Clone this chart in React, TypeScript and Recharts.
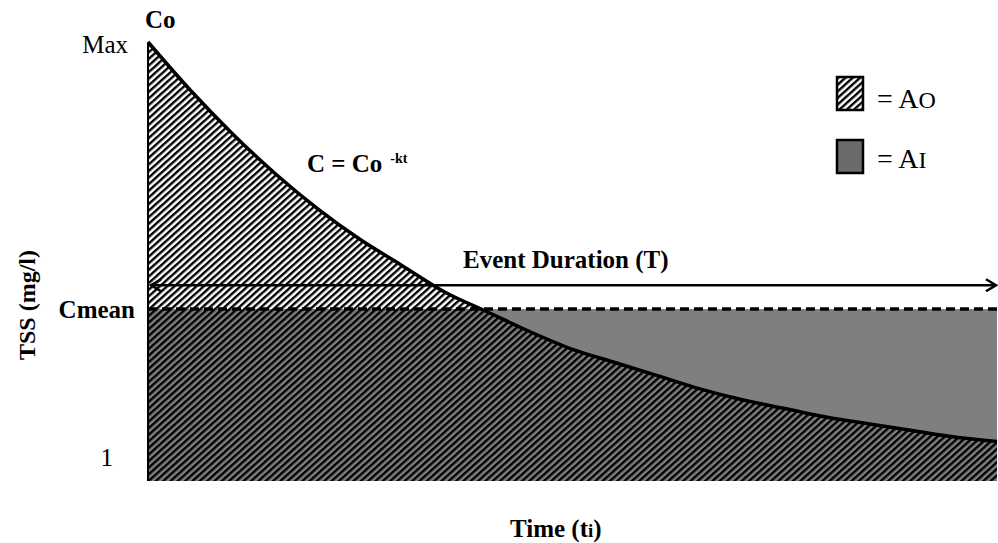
import {
  Area,
  ComposedChart,
  ReferenceLine,
  XAxis,
  YAxis,
} from 'recharts'

// time since start of event (0..100 = event duration T)
const times = [0, 5, 10, 15, 20, 25, 30, 35, 40, 45, 50, 55, 60, 65, 70, 75, 80, 85, 90, 95, 100]
// TSS concentration (Max = 100)
const tss = [100, 89, 79, 70, 62, 55, 49, 43, 38.5, 34, 30, 27, 24, 21, 18.5, 16.5, 14.5, 13, 11.5, 10, 9]
const cMean = [39.2, 39.2, 39.2, 39.2, 39.2, 39.2, 39.2, 39.2, 39.2, 39.2, 39.2, 39.2, 39.2, 39.2, 39.2, 39.2, 39.2, 39.2, 39.2, 39.2, 39.2]

const C_MEAN = 39.2
const DURATION_LEVEL = 44.6
const yTicks = [2.5, 39.2, 100]
const yTickLabels = ['1', 'Cmean', 'Max']

const data = times.map((t, i) => ({ t, tss: tss[i], cmean: cMean[i] }))

const FONT = '"Liberation Serif", "Times New Roman", serif'
const GREY = '#7f7f7f'
const serif = { fontFamily: FONT }

function YTick({ x, y, index }: { x: number; y: number; index: number }) {
  // each label sits a little differently in the original
  const dx = [-35, -13, -20][index]
  const dy = [-4, 9, 11][index]
  return (
    <text
      x={x + dx}
      y={y + dy}
      textAnchor="end"
      style={serif}
      fontSize={25}
      fontWeight={index === 1 ? 'bold' : 'normal'}
      fill="#000"
    >
      {yTickLabels[index]}
    </text>
  )
}

function DurationArrow(props: { x1: number; y1: number; x2: number; y2: number }) {
  return (
    <line
      x1={props.x1 + 3}
      y1={props.y1}
      x2={props.x2 - 1}
      y2={props.y2}
      stroke="#000"
      strokeWidth={2.5}
      markerStart="url(#arrowStart)"
      markerEnd="url(#arrowEnd)"
    />
  )
}

export default function App() {
  return (
    <div style={{ position: 'absolute', left: 0, top: 0, background: '#fff' }}>
      <ComposedChart
        width={998}
        height={543}
        data={data}
        margin={{ top: 42, right: 1, bottom: 62, left: 0 }}
      >
        <defs>
          <pattern
            id="hatch"
            width={4.9}
            height={10}
            patternUnits="userSpaceOnUse"
            patternTransform="rotate(48)"
          >
            <rect x={0} y={0} width={2.4} height={10} fill="#000" />
          </pattern>
          <marker id="arrowEnd" markerWidth={14} markerHeight={14} refX={11} refY={7} orient="auto" markerUnits="userSpaceOnUse">
            <path d="M1,1 L11,7 L1,13" fill="none" stroke="#000" strokeWidth={2.5} />
          </marker>
          <marker id="arrowStart" markerWidth={14} markerHeight={14} refX={3} refY={7} orient="auto" markerUnits="userSpaceOnUse">
            <path d="M13,1 L3,7 L13,13" fill="none" stroke="#000" strokeWidth={2.5} />
          </marker>
        </defs>
        <XAxis
          dataKey="t"
          type="number"
          domain={[0, 100]}
          tick={false}
          tickLine={false}
          axisLine={{ stroke: '#000', strokeWidth: 2 }}
          height={0}
        />
        <YAxis
          type="number"
          domain={[0, 100]}
          ticks={yTicks}
          interval={0}
          width={148}
          tickSize={0}
          tickMargin={0}
          tickLine={false}
          tick={(p: any) => <YTick x={p.x} y={p.y} index={p.index} />}
          axisLine={{ stroke: '#000', strokeWidth: 2 }}
        />
        <Area
          dataKey="cmean"
          type="linear"
          fill={GREY}
          fillOpacity={1}
          stroke="none"
          isAnimationActive={false}
        />
        <Area
          dataKey="tss"
          type="monotone"
          fill="url(#hatch)"
          fillOpacity={1}
          stroke="#000"
          strokeWidth={3.5}
          isAnimationActive={false}
        />
        <ReferenceLine y={C_MEAN} stroke="#000" strokeWidth={3.5} strokeDasharray="9 5" />
        <ReferenceLine y={DURATION_LEVEL} shape={(p: any) => <DurationArrow {...p} />} />

        <text x={145} y={28} style={serif} fontSize={25} fontWeight="bold">Co</text>
        <text x={307} y={172} style={serif} fontSize={25} fontWeight="bold">
          C = Co
          <tspan dx={8} dy={-9} fontSize={14}>-kt</tspan>
        </text>
        <text x={463} y={268} style={serif} fontSize={25} fontWeight="bold">Event Duration (T)</text>
        <text x={510} y={537} style={serif} fontSize={25} fontWeight="bold">
          Time (t<tspan fontSize={19}>i</tspan>)
        </text>
        <text
          x={35}
          y={305}
          transform="rotate(-90 35 305)"
          textAnchor="middle"
          style={serif}
          fontSize={24}
          fontWeight="bold"
        >
          TSS (mg/l)
        </text>

        <rect x={837} y={77} width={26} height={33} fill="url(#hatch)" stroke="#000" strokeWidth={2.5} />
        <text x={877} y={108} style={serif} fontSize={28}>
          = A<tspan fontSize={24}>O</tspan>
        </text>
        <rect x={837} y={140} width={26} height={33} fill="#6b6b6b" stroke="#000" strokeWidth={2.5} />
        <text x={877} y={168} style={serif} fontSize={28}>
          = A<tspan fontSize={24}>I</tspan>
        </text>
      </ComposedChart>
    </div>
  )
}
